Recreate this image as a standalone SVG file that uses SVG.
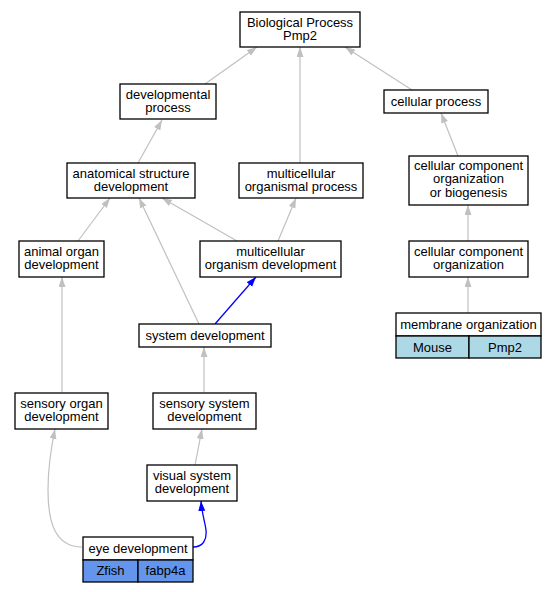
<svg xmlns="http://www.w3.org/2000/svg" width="556" height="592" viewBox="0 0 556 592">
<style>
text{font-family:"Liberation Sans",Arial,sans-serif;font-size:13px;text-anchor:middle;fill:#000}
.box{fill:#fff;stroke:#000;stroke-width:1.3}
.e{fill:none;stroke:#c0c0c0;stroke-width:1.2}
.b{fill:none;stroke:#0000ff;stroke-width:1.3}
.mouse{fill:#add8e6;stroke:#000;stroke-width:1.3}
.zf{fill:#6495ed;stroke:#000;stroke-width:1.3}
</style>
<defs>
<marker id="ag" markerUnits="userSpaceOnUse" markerWidth="11" markerHeight="8" refX="10" refY="3.5" orient="auto"><path d="M0,0 L10,3.5 L0,7 z" fill="#c0c0c0"/></marker>
<marker id="ab" markerUnits="userSpaceOnUse" markerWidth="11" markerHeight="8" refX="10" refY="3.5" orient="auto"><path d="M0,0 L10,3.5 L0,7 z" fill="#0000ff"/></marker>
</defs>
<rect width="556" height="592" fill="#fff"/>
<g id="edges">
<path class="e" marker-end="url(#ag)" d="M205,84 L257,47"/>
<path class="e" marker-end="url(#ag)" d="M300,163 L300,47"/>
<path class="e" marker-end="url(#ag)" d="M412,90 L345,47"/>
<path class="e" marker-end="url(#ag)" d="M138,163 L162,120"/>
<path class="e" marker-end="url(#ag)" d="M458,156 L441,113"/>
<path class="e" marker-end="url(#ag)" d="M78,241 L110,198"/>
<path class="e" marker-end="url(#ag)" d="M237,241 L162,198"/>
<path class="e" marker-end="url(#ag)" d="M199,324 L139,198"/>
<path class="e" marker-end="url(#ag)" d="M278,241 L296,198"/>
<path class="e" marker-end="url(#ag)" d="M468,241 L468,205"/>
<path class="e" marker-end="url(#ag)" d="M468,313 L468,277"/>
<path class="b" marker-end="url(#ab)" d="M215,324 L256,277"/>
<path class="e" marker-end="url(#ag)" d="M62,392 L62,277"/>
<path class="e" marker-end="url(#ag)" d="M204,392 L204,347"/>
<path class="e" marker-end="url(#ag)" d="M195,465 L202,429"/>
<path class="e" marker-end="url(#ag)" d="M82,547 C55,547 48,522 48,490 C48,465 51,448 55,429"/>
<path class="b" marker-end="url(#ab)" d="M193,547 C203,547 207,540 206,530 C205,522 202,514 201,501"/>
</g>
<g id="bp"><rect class="box" x="240" y="12" width="120" height="35"/><text x="300" y="27">Biological Process<tspan x="300" dy="13.3">Pmp2</tspan></text></g>
<g id="devproc"><rect class="box" x="120" y="84" width="96" height="35"/><text x="168" y="99">developmental<tspan x="168" dy="13.3">process</tspan></text></g>
<g id="cellproc"><rect class="box" x="384" y="90" width="104" height="23"/><text x="436" y="106">cellular process</text></g>
<g id="asd"><rect class="box" x="67" y="163" width="128" height="35"/><text x="131" y="178">anatomical structure<tspan x="131" dy="13.3">development</tspan></text></g>
<g id="mop"><rect class="box" x="239" y="163" width="124" height="35"/><text x="301" y="178">multicellular<tspan x="301" dy="13.3">organismal process</tspan></text></g>
<g id="ccob"><rect class="box" x="409" y="156" width="119" height="49"/><text x="468.5" y="170">cellular component<tspan x="468.5" dy="13.4">organization</tspan><tspan x="468.5" dy="13.4">or biogenesis</tspan></text></g>
<g id="aod"><rect class="box" x="19" y="241" width="85" height="36"/><text x="61.5" y="256">animal organ<tspan x="61.5" dy="13.4">development</tspan></text></g>
<g id="mod"><rect class="box" x="200" y="241" width="141" height="36"/><text x="270.5" y="256">multicellular<tspan x="270.5" dy="13.4">organism development</tspan></text></g>
<g id="cco"><rect class="box" x="409" y="241" width="119" height="36"/><text x="468.5" y="256">cellular component<tspan x="468.5" dy="13.4">organization</tspan></text></g>
<g id="sd"><rect class="box" x="139" y="324" width="132" height="23"/><text x="205" y="340">system development</text></g>
<g id="mo"><rect class="box" x="396" y="313" width="145" height="23"/><text x="468.5" y="329">membrane organization</text><rect class="mouse" x="396" y="336" width="73" height="22"/><text x="432.5" y="351.5">Mouse</text><rect class="mouse" x="469" y="336" width="72" height="22"/><text x="505" y="351.5">Pmp2</text></g>
<g id="sod"><rect class="box" x="15" y="393" width="93" height="36"/><text x="61.5" y="408">sensory organ<tspan x="61.5" dy="13.4">development</tspan></text></g>
<g id="ssd"><rect class="box" x="153" y="393" width="103" height="36"/><text x="204.5" y="408">sensory system<tspan x="204.5" dy="13.4">development</tspan></text></g>
<g id="vsd"><rect class="box" x="147" y="465" width="90" height="36"/><text x="192" y="480">visual system<tspan x="192" dy="13.4">development</tspan></text></g>
<g id="ed"><rect class="box" x="83" y="537" width="110" height="23"/><text x="138" y="552.5">eye development</text><rect class="zf" x="83" y="560" width="55" height="22"/><text x="110.5" y="575">Zfish</text><rect class="zf" x="138" y="560" width="55" height="22"/><text x="165.5" y="575">fabp4a</text></g>
</svg>
